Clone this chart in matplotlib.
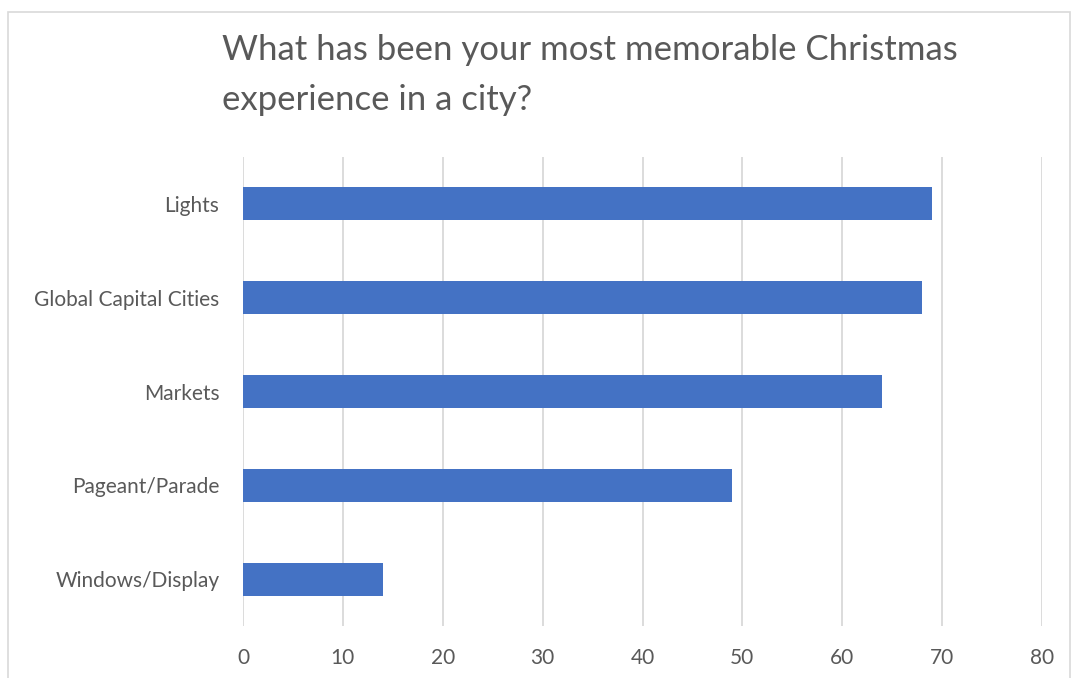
import matplotlib.pyplot as plt
from matplotlib.patches import Rectangle

# survey answers, top to bottom as shown
categories = ['Lights', 'Global Capital Cities', 'Markets', 'Pageant/Parade', 'Windows/Display']
values = [69, 68, 64, 49, 14]
xticks = [0, 10, 20, 30, 40, 50, 60, 70, 80]
title_lines = ['What has been your most memorable Christmas', 'experience in a city?']

plt.rcParams['font.family'] = ['Lato', 'DejaVu Sans']

fig = plt.figure(figsize=(10.73, 6.78), dpi=100)
ax = fig.add_axes([243 / 1073, 1 - 626 / 678, 799 / 1073, 469 / 678])

# light chart border
fig.patches.append(Rectangle((8 / 1073, -0.01), 1062 / 1073, 1 - 12 / 678 + 0.01,
                             transform=fig.transFigure, fill=False,
                             edgecolor='#d9d9d9', linewidth=1.2))

ypos = list(range(len(categories)))
ax.barh(ypos, values, height=0.35, color='#4472c4', zorder=3)
ax.set_yticks(ypos)
ax.set_yticklabels(categories)
ax.set_ylim(len(categories) - 0.5, -0.5)
ax.set_xlim(0, 80)
ax.set_xticks(xticks)

ax.grid(axis='x', color='#d9d9d9', linewidth=1.3, zorder=0)
for s in ax.spines.values():
    s.set_visible(False)
ax.tick_params(axis='both', length=0, labelsize=15, colors='#595959')
ax.tick_params(axis='x', pad=16)
ax.tick_params(axis='y', pad=17)

for i, line in enumerate(title_lines):
    fig.text(222 / 1073, 1 - (50 + 50 * i) / 678, line,
             fontsize=25, color='#595959', ha='left', va='center')

plt.savefig('out.png', dpi=100)
